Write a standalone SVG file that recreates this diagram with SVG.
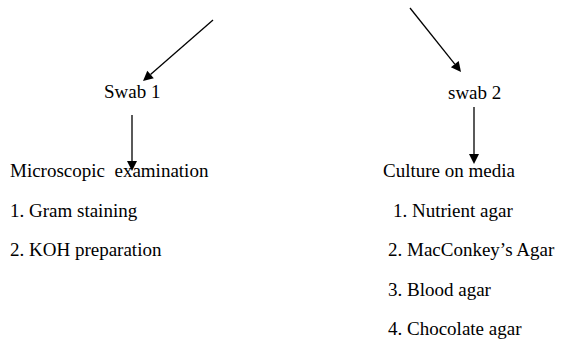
<svg xmlns="http://www.w3.org/2000/svg" width="566" height="339" viewBox="0 0 566 339">
<rect width="566" height="339" fill="#fff"/>
<g id="connectors" stroke="#000" stroke-width="1.3">
<line x1="213" y1="20" x2="150.5" y2="74.4"/>
<polygon points="143,81 153.8,78.2 147.3,70.7" fill="#000" stroke="none"/>
<line x1="410" y1="8" x2="454.8" y2="64.2"/>
<polygon points="461,72 450.9,67.3 458.7,61.1" fill="#000" stroke="none"/>
<line x1="132" y1="115" x2="132" y2="161"/>
<polygon points="132,171 127,161 137,161" fill="#000" stroke="none"/>
<line x1="474" y1="107" x2="474" y2="154"/>
<polygon points="474,164 469,154 479,154" fill="#000" stroke="none"/>
</g>
<g id="swab1"><text x="104" y="98" style="font-family:'Liberation Serif',serif;font-size:19px">Swab 1</text></g>
<g id="swab2"><text x="448" y="99" style="font-family:'Liberation Serif',serif;font-size:19px">swab 2</text></g>
<g id="micro">
<text x="10" y="177" style="font-family:'Liberation Serif',serif;font-size:19px;white-space:pre">Microscopic  examination</text>
<text x="10" y="217" style="font-family:'Liberation Serif',serif;font-size:19px">1. Gram staining</text>
<text x="10" y="256" style="font-family:'Liberation Serif',serif;font-size:19px">2. KOH preparation</text>
</g>
<g id="culture">
<text x="383" y="177" style="font-family:'Liberation Serif',serif;font-size:19px">Culture on media</text>
<text x="393" y="217" style="font-family:'Liberation Serif',serif;font-size:19px">1. Nutrient agar</text>
<text x="388" y="256" style="font-family:'Liberation Serif',serif;font-size:19px">2. MacConkey’s Agar</text>
<text x="388" y="296" style="font-family:'Liberation Serif',serif;font-size:19px">3. Blood agar</text>
<text x="388" y="335" style="font-family:'Liberation Serif',serif;font-size:19px">4. Chocolate agar</text>
</g>
</svg>
